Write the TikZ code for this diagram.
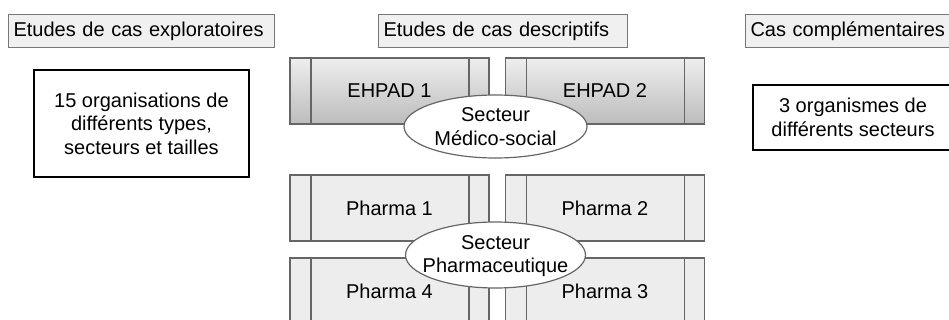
\documentclass[tikz,border=0pt]{standalone}
\usepackage{fontspec}
\setmainfont{Liberation Sans}
\usetikzlibrary{shapes.geometric}
\definecolor{hdrfill}{HTML}{F0F0F0}
\definecolor{hdrdraw}{HTML}{777777}
\definecolor{procdraw}{HTML}{666666}
\definecolor{procfill}{HTML}{EDEDED}
\definecolor{shtop}{HTML}{EEEEEE}
\definecolor{shbot}{HTML}{BCBCBC}
\tikzset{
  txt/.style={font=\fontsize{20}{23.5}\selectfont},
  hdr/.style={txt, draw=hdrdraw, fill=hdrfill, line width=1pt, anchor=west,
    minimum height=33pt, inner xsep=5pt, inner ysep=0pt, align=left},
  content/.style={txt, draw=black, fill=white, line width=1.3pt, align=center,
    inner sep=0pt},
  procbox/.style={txt, draw=procdraw, line width=1.4pt, minimum width=199pt,
    minimum height=66pt, inner sep=0pt,
    path picture={
      \draw[procdraw, line width=1.4pt]
        ([xshift=21pt]path picture bounding box.north west) --
        ([xshift=21pt]path picture bounding box.south west);
      \draw[procdraw, line width=1.4pt]
        ([xshift=-20pt]path picture bounding box.north east) --
        ([xshift=-20pt]path picture bounding box.south east);
    }},
  plainproc/.style={procbox, fill=procfill},
  shadedproc/.style={procbox, top color=shtop, bottom color=shbot},
  sector/.style={ellipse, draw=procdraw, fill=white, line width=1.2pt,
    inner sep=0pt},
}
\begin{document}
\begin{tikzpicture}[x=1pt, y=-1pt]
\useasboundingbox (0,0) rectangle (949,320);
\clip (0,0) rectangle (949,320);

% headers
\node[hdr, minimum width=266pt, text width=256pt] (h1) at (8,31.5) {Etudes de cas exploratoires};
\node[hdr, minimum width=249pt, text width=239pt] (h2) at (378,31.5) {Etudes de cas descriptifs};
\node[hdr, minimum width=212pt, text width=202pt, inner xsep=4pt] (h3) at (745,31.5) {Cas complémentaires};

% side contents
\node[content, minimum width=215pt, minimum height=107pt] (c1) at (141.5,123.5)
  {15 organisations de\\différents types,\\secteurs et tailles};
\node[content, minimum width=200pt, minimum height=65pt] (c3) at (853,117.5)
  {3 organismes de\\différents secteurs};

% process boxes
\node[shadedproc] (e1) at (389.5,91) {EHPAD 1};
\node[shadedproc] (e2) at (605,91) {EHPAD 2};
\node[plainproc] (p1) at (389.5,208) {Pharma 1};
\node[plainproc] (p2) at (605,208) {Pharma 2};
\node[plainproc] (p4) at (389.5,291) {Pharma 4};
\node[plainproc] (p3) at (605,291) {Pharma 3};

% sector ellipses
\node[sector, minimum width=183pt, minimum height=63pt,
  label={[txt, align=center]center:Secteur\\Médico-social}] (s1) at (495.5,126.5) {};
\node[sector, minimum width=180pt, minimum height=66pt,
  label={[txt, align=center, yshift=-1pt]center:Secteur\\Pharmaceutique}] (s2) at (495.5,255) {};
\end{tikzpicture}
\end{document}
